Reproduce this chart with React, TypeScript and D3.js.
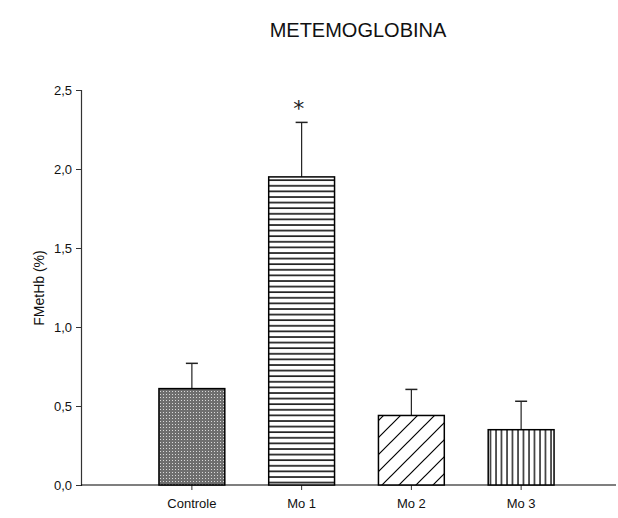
import React, { useEffect, useRef } from "react";
import * as d3 from "d3";

const categories = ["Controle", "Mo 1", "Mo 2", "Mo 3"];
const means = [0.61, 1.95, 0.44, 0.35];
const errors = [0.16, 0.345, 0.165, 0.18];
const patterns = ["dots", "hlines", "diag", "vlines"];
const yTicks = [0, 0.5, 1.0, 1.5, 2.0, 2.5];
const significant = [false, true, false, false];

const App = () => {
  const svgRef = useRef<SVGSVGElement>(null);

  useEffect(() => {
    const svg = d3.select(svgRef.current);
    svg.selectAll("*").remove();
    const width = 618;
    const height = 518;
    const font = "Liberation Sans, Arial, sans-serif";

    svg.attr("width", width).attr("height", height);

    const defs = svg.append("defs");

    const dots = defs.append("pattern")
      .attr("id", "dots").attr("patternUnits", "userSpaceOnUse")
      .attr("width", 3).attr("height", 3);
    dots.append("rect").attr("width", 3).attr("height", 3).attr("fill", "#6e6e6e");
    dots.append("rect").attr("x", 1).attr("y", 1).attr("width", 1).attr("height", 1).attr("fill", "#d8d8d8");

    const hl = defs.append("pattern")
      .attr("id", "hlines").attr("patternUnits", "userSpaceOnUse")
      .attr("width", 10).attr("height", 5.6);
    hl.append("rect").attr("width", 10).attr("height", 5.6).attr("fill", "white");
    hl.append("line").attr("x1", 0).attr("x2", 10).attr("y1", 1).attr("y2", 1)
      .attr("stroke", "black").attr("stroke-width", 1.5);

    const dg = defs.append("pattern")
      .attr("id", "diag").attr("patternUnits", "userSpaceOnUse")
      .attr("width", 17).attr("height", 17);
    dg.append("rect").attr("width", 17).attr("height", 17).attr("fill", "white");
    dg.append("path").attr("d", "M0,17 L17,0 M-4,4 L4,-4 M13,21 L21,13")
      .attr("stroke", "black").attr("stroke-width", 1.2);

    const vl = defs.append("pattern")
      .attr("id", "vlines").attr("patternUnits", "userSpaceOnUse")
      .attr("width", 5.5).attr("height", 10);
    vl.append("rect").attr("width", 5.5).attr("height", 10).attr("fill", "white");
    vl.append("line").attr("x1", 1).attr("x2", 1).attr("y1", 0).attr("y2", 10)
      .attr("stroke", "black").attr("stroke-width", 1.3);

    const x = d3.scaleBand()
      .domain(categories)
      .range([137, 576])
      .paddingInner(0.4)
      .paddingOuter(0.2);

    const y = d3.scaleLinear().domain([0, 2.5]).range([485, 90]);

    const fmt = (d: number) => d3.format(".1f")(d).replace(".", ",");

    // y axis
    const yAxis = svg.append("g")
      .attr("transform", "translate(81,0)")
      .call(d3.axisLeft(y).tickValues(yTicks).tickSize(5).tickPadding(4).tickFormat(fmt as any));
    yAxis.select(".domain").attr("stroke", "#333").attr("stroke-width", 1.2);
    yAxis.selectAll(".tick line").attr("stroke", "#333");
    yAxis.selectAll(".tick text").attr("font-family", font).attr("font-size", 13).attr("fill", "#111");

    // x axis
    const xAxis = svg.append("g")
      .attr("transform", "translate(0,485)")
      .call(d3.axisBottom(x).tickSize(5).tickPadding(9));
    xAxis.select(".domain").attr("d", "M81,0H616").attr("stroke", "black").attr("stroke-width", 1.2);
    xAxis.selectAll(".tick line").attr("stroke", "#333");
    xAxis.selectAll(".tick text").attr("font-family", font).attr("font-size", 13).attr("fill", "#111");

    const data = categories.map((c, i) => ({ c, m: means[i], e: errors[i], p: patterns[i], s: significant[i] }));

    // error bars
    const eb = svg.append("g").selectAll("g").data(data).enter().append("g");
    eb.append("line")
      .attr("x1", d => x(d.c)! + x.bandwidth() / 2)
      .attr("x2", d => x(d.c)! + x.bandwidth() / 2)
      .attr("y1", d => y(d.m))
      .attr("y2", d => y(d.m + d.e))
      .attr("stroke", "#222").attr("stroke-width", 1.2);
    eb.append("line")
      .attr("x1", d => x(d.c)! + x.bandwidth() / 2 - 6)
      .attr("x2", d => x(d.c)! + x.bandwidth() / 2 + 6)
      .attr("y1", d => y(d.m + d.e))
      .attr("y2", d => y(d.m + d.e))
      .attr("stroke", "#222").attr("stroke-width", 1.5);

    // bars
    svg.append("g").selectAll("rect").data(data).enter().append("rect")
      .attr("x", d => x(d.c)!)
      .attr("y", d => y(d.m))
      .attr("width", x.bandwidth())
      .attr("height", d => y(0) - y(d.m))
      .attr("fill", d => `url(#${d.p})`)
      .attr("stroke", "black")
      .attr("stroke-width", 1.5);

    // significance
    svg.append("g").selectAll("text").data(data.filter(d => d.s)).enter().append("text")
      .attr("x", d => x(d.c)! + x.bandwidth() / 2 - 3)
      .attr("y", d => y(d.m + d.e) - 6)
      .attr("text-anchor", "middle")
      .attr("font-family", "DejaVu Sans, sans-serif")
      .attr("font-size", 22)
      .attr("fill", "#222")
      .text("*");

    // title
    svg.append("text")
      .attr("x", 358).attr("y", 37)
      .attr("text-anchor", "middle")
      .attr("font-family", font)
      .attr("font-size", 20)
      .attr("fill", "#111")
      .text("METEMOGLOBINA");

    // y label
    svg.append("text")
      .attr("transform", "translate(44,288) rotate(-90)")
      .attr("text-anchor", "middle")
      .attr("font-family", font)
      .attr("font-size", 14)
      .attr("fill", "#111")
      .text("FMetHb (%)");
  }, []);

  return (
    <svg ref={svgRef} style={{ position: "absolute", left: 0, top: 0 }}></svg>
  );
};

export default App;
